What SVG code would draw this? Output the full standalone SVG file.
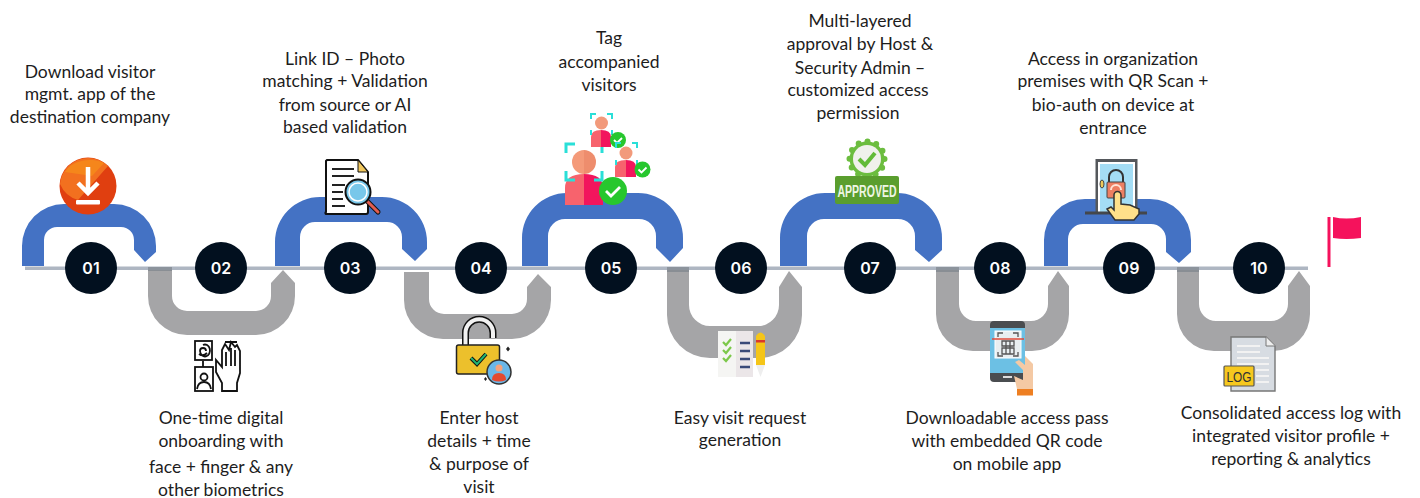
<svg xmlns="http://www.w3.org/2000/svg" width="1420" height="498" viewBox="0 0 1420 498">
<style>
.lb{font-family:"Lato","Liberation Sans",sans-serif;font-size:17.5px;fill:#1d1d1d;text-anchor:middle}
.nm{font-family:"Inter","Liberation Sans",sans-serif;font-size:16px;font-weight:600;fill:#fff;text-anchor:middle}
.dot{fill:#02101f}
.up{fill:#4472c4}
.dn{fill:#a5a5a7}
.ln{fill:none;stroke:#111;stroke-width:1.800}
</style>
<rect width="1420" height="498" fill="#fff"/>
<g id="connectors">
<path class="dn" d="M148 268H172V296A15 15 0 0 0 187 311H256A15 15 0 0 0 271 296V283L283 270L295 283V296A39 39 0 0 1 256 335H187A39 39 0 0 1 148 296Z"/>
<path class="dn" d="M404 272H429V299A15 15 0 0 0 444 314H512A15 15 0 0 0 527 299V287L538 274L551 287V300A39 39 0 0 1 512 339H443A39 39 0 0 1 404 300Z"/>
<path class="dn" d="M667 268H689V305A21 21 0 0 0 710 326H758A21 21 0 0 0 779 305V287L789 271L802 287V315A43 43 0 0 1 759 358H710A43 43 0 0 1 667 315Z"/>
<path class="dn" d="M936 268H959V304A17 17 0 0 0 976 321H1031A17 17 0 0 0 1048 304V286L1058 271L1069 286V314A37 37 0 0 1 1032 351H973A37 37 0 0 1 936 314Z"/>
<path class="dn" d="M1177 268H1199V304A17 17 0 0 0 1216 321H1271A17 17 0 0 0 1288 304V286L1299 271L1310 286V314A37 37 0 0 1 1273 351H1214A37 37 0 0 1 1177 314Z"/>
<path class="up" d="M22 266V246A42 42 0 0 1 64 204H114A42 42 0 0 1 156 246V252L145 262L134 250V240A13 13 0 0 0 121 227H57A13 13 0 0 0 44 240V266Z"/>
<path class="up" d="M275 266V242A45 45 0 0 1 320 197H382A45 45 0 0 1 427 242V249L415 261L402 249V237A15 15 0 0 0 387 222H315A15 15 0 0 0 300 237V266Z"/>
<path class="up" d="M522 266V238A45 45 0 0 1 567 193H638A45 45 0 0 1 683 238V248L670 262L656 248V236A17 17 0 0 0 639 219H565A17 17 0 0 0 548 236V266Z"/>
<path class="up" d="M780 266V238A45 45 0 0 1 825 193H897A45 45 0 0 1 942 238V250L929 262L915 250V236A17 17 0 0 0 898 219H824A17 17 0 0 0 807 236V266Z"/>
<path class="up" d="M1044 266V240A41 41 0 0 1 1085 199H1150A41 41 0 0 1 1191 240V252L1179 263L1166 252V239A15 15 0 0 0 1151 224H1083A15 15 0 0 0 1068 239V266Z"/>
<rect x="25" y="266.500" width="1283" height="3.500" fill="#aeb6c2"/>
<path fill="#7d848c" d="M667 267h22v5h-22zM936 267h23v5h-23zM1177 267h22v5h-22zM148 267h24v4h-24z" opacity=".7"/>
</g>
<g id="step-01">
<circle class="dot" cx="91" cy="268" r="26"/><text class="nm" x="91" y="274">01</text>
<text class="lb"><tspan x="90" y="78">Download visitor</tspan><tspan x="90" y="100">mgmt. app of the</tspan><tspan x="90" y="123">destination company</tspan></text>
<circle cx="88" cy="186" r="28.500" fill="#e03f10"/>
<path d="M60 184A28 28 0 0 1 88 158A28 28 0 0 1 108 166L78 200A28 28 0 0 1 60 184Z" fill="#f2701f"/>
<path d="M65 172A26 18 0 0 1 104 163L92 176Z" fill="#f58c1a" opacity=".8"/>
<path d="M88 167V192M78 183L88 193L98 183" fill="none" stroke="#fff" stroke-width="4.500"/><rect x="76" y="200" width="24" height="4.500" rx="1" fill="#fff"/>
</g>
<g id="step-02">
<circle class="dot" cx="221" cy="268" r="26"/><text class="nm" x="221" y="274">02</text>
<text class="lb"><tspan x="221" y="424">One-time digital</tspan><tspan x="221" y="447">onboarding with</tspan><tspan x="221" y="473">face + finger &amp; any</tspan><tspan x="221" y="496">other biometrics</tspan></text>
<rect class="ln" x="195" y="341" width="17" height="19"/><path class="ln" d="M203 361V367M203 345a5 6 0 1 1-3 6a3 3 0 1 1 6 0M199 354q4 3 8-1"/>
<rect class="ln" x="195" y="367" width="18" height="24"/><circle class="ln" cx="204" cy="377" r="3.500"/><path class="ln" d="M197 389q1-7 7-7t7 7"/>
<path class="ln" d="M222 391V383L216 372V360L222 367V350L225 344L229 350L231 342L235 347L237 345L240 351V373L237 383V391ZM224 391H237M226 352V366M231 348V366M235 350V366M225 342L237 342"/>
</g>
<g id="step-03">
<circle class="dot" cx="350" cy="268" r="26"/><text class="nm" x="350" y="274">03</text>
<text class="lb"><tspan x="345" y="65">Link ID – Photo</tspan><tspan x="345" y="87">matching + Validation</tspan><tspan x="345" y="111">from source or AI</tspan><tspan x="345" y="133">based validation</tspan></text>
<path d="M327 160H358L368 172V212A2 2 0 0 1 366 214H327A1 1 0 0 1 326 212V161Z" fill="#fff" stroke="#111" stroke-width="2"/>
<path d="M358 160V172H368Z" fill="#f0c75e" stroke="#111"/>
<path d="M332 169H354M332 176H354M332 185H345M332 192H343M332 199H343M332 206H345" stroke="#222" stroke-width="1.800" fill="none"/>
<path d="M366 200L378 212" stroke="#111" stroke-width="5" stroke-linecap="round"/><path d="M366 200L378 212" stroke="#e25d50" stroke-width="3" stroke-linecap="round"/>
<circle cx="358" cy="192" r="12.500" fill="#78c7ea" stroke="#111" stroke-width="2"/><circle cx="358" cy="192" r="9" fill="#78c7ea" stroke="#fff" stroke-width="1.500"/>
</g>
<g id="step-04">
<circle class="dot" cx="481" cy="268" r="26"/><text class="nm" x="481" y="274">04</text>
<text class="lb"><tspan x="479" y="424">Enter host</tspan><tspan x="479" y="447">details + time</tspan><tspan x="479" y="470">&amp; purpose of</tspan><tspan x="479" y="493">visit</tspan></text>
<path d="M465.500 345V333A13.750 13.750 0 0 1 493 333V338" fill="none" stroke="#111" stroke-width="7"/><path d="M465.500 345V333A13.750 13.750 0 0 1 493 333V338" fill="none" stroke="#f2f2f2" stroke-width="4"/>
<rect x="456.500" y="345" width="43" height="29" rx="2" fill="#ecc02c" stroke="#222" stroke-width="1.500"/>
<path d="M471 358L477 364L486 354" fill="none" stroke="#111" stroke-width="4"/><path d="M471 358L477 364L486 354" fill="none" stroke="#21b573" stroke-width="2"/>
<circle cx="499" cy="372" r="12" fill="#6ab7e8" stroke="#333" stroke-width="1.500"/><circle cx="499" cy="368" r="3.500" fill="#f4a27c"/><path d="M492 380q0-7 7-7t7 7q-7 3-14 0Z" fill="#e4492f"/>
<path d="M506 349l2 2.500 2-2.500-2-2.500ZM484 379l1.500 2 1.500-2-1.500-2Z" fill="#222"/>
</g>
<g id="step-05">
<circle class="dot" cx="611" cy="268" r="26"/><text class="nm" x="611" y="274">05</text>
<text class="lb"><tspan x="609" y="44">Tag</tspan><tspan x="609" y="68">accompanied</tspan><tspan x="609" y="91">visitors</tspan></text>
<path d="M565 205V188Q565 174 584 174V205Z" fill="#f7636d"/><path d="M584 205V174Q603 174 603 188V205Z" fill="#f2155d"/>
<path d="M584 150A12 12 0 0 0 584 174Z" fill="#f49a79"/><path d="M584 150A12 12 0 0 1 584 174Z" fill="#ee8d6d"/>
<path d="M566 153V144H575M594 144H602V153M566 171V180H575M594 180H602V171" fill="none" stroke="#2adfd8" stroke-width="3"/>
<circle cx="613" cy="191" r="14" fill="#27c72e"/><path d="M606 191L611 196L620 187" fill="none" stroke="#fff" stroke-width="2.800"/>
<path d="M591 147V137Q591 130 601 130V147Z" fill="#f7636d"/><path d="M601 147V130Q611 130 611 137V147Z" fill="#f2155d"/>
<circle cx="601.500" cy="123" r="6.500" fill="#f29a7b"/>
<path d="M591 119V114H596M607 114H612V119M591 130V135M612 130V135" fill="none" stroke="#2adfd8" stroke-width="2"/>
<circle cx="618" cy="140" r="8" fill="#27c72e"/><path d="M614 140L617 143L622 138" fill="none" stroke="#fff" stroke-width="1.800"/>
<path d="M615 177V167Q615 160 626 160V177Z" fill="#f7636d"/><path d="M626 177V160Q636 160 636 167V177Z" fill="#f2155d"/>
<circle cx="626" cy="153" r="6.500" fill="#f29a7b"/>
<path d="M616 148V143H621M632 143H637V148M616 160V165M637 160V165" fill="none" stroke="#2adfd8" stroke-width="2"/>
<circle cx="642.500" cy="169.500" r="8" fill="#27c72e"/><path d="M638.500 169.500L641.500 172.500L646.500 167.500" fill="none" stroke="#fff" stroke-width="1.800"/>
</g>
<g id="step-06">
<circle class="dot" cx="741" cy="268" r="26"/><text class="nm" x="741" y="274">06</text>
<text class="lb"><tspan x="740" y="424">Easy visit request</tspan><tspan x="740" y="446">generation</tspan></text>
<rect x="718" y="331" width="18" height="46" fill="#f5f5f3"/><rect x="736" y="331" width="17" height="46" fill="#ebe6e8"/>
<path d="M723 342L726 345L731 339M723 350L726 353L731 347M723 358L726 361L731 355" fill="none" stroke="#7cc84a" stroke-width="2.200"/>
<path d="M740 343H750M740 351H750M740 359H750M740 367H750" stroke="#3a4a78" stroke-width="2.500"/>
<path d="M756 336Q760 329 765 336V365H756Z" fill="#f5c518"/><rect x="756" y="340" width="9" height="2.500" fill="#d9382c"/><path d="M756 365H765L760.500 377Z" fill="#eee"/>
</g>
<g id="step-07">
<circle class="dot" cx="870" cy="268" r="26"/><text class="nm" x="870" y="274">07</text>
<text class="lb"><tspan x="860" y="27">Multi-layered</tspan><tspan x="860" y="50">approval by Host &amp;</tspan><tspan x="860" y="74">Security Admin –</tspan><tspan x="858" y="96">customized access</tspan><tspan x="858" y="119">permission</tspan></text>
<circle cx="867" cy="159" r="17.500" fill="#6cbd3f" stroke="#6cbd3f" stroke-width="6" stroke-linecap="round" stroke-dasharray="0 9.160"/>
<circle cx="867" cy="159" r="14" fill="#f0f1ec"/>
<path d="M859 159L865 165L875 153" fill="none" stroke="#62bb38" stroke-width="4"/>
<rect x="835" y="176" width="64" height="28" rx="2" fill="#5a9e2e"/>
<text x="867" y="197" style="font-family:'Liberation Sans Narrow','Liberation Sans',sans-serif;font-size:16px;font-weight:700;fill:#eef6e4;text-anchor:middle" textLength="59" lengthAdjust="spacingAndGlyphs">APPROVED</text>
</g>
<g id="step-08">
<circle class="dot" cx="1000" cy="268" r="26"/><text class="nm" x="1000" y="274">08</text>
<text class="lb"><tspan x="1007" y="424">Downloadable access pass</tspan><tspan x="1007" y="447">with embedded QR code</tspan><tspan x="1007" y="470">on mobile app</tspan></text>
<rect x="990" y="321" width="35" height="61" rx="4" fill="#4a4d50"/><rect x="990" y="328" width="35" height="45" fill="#6cc0e4"/>
<rect x="995" y="331" width="26" height="27" fill="#e8eef0" stroke="#fff"/>
<path d="M998 337V333H1003M1013 333H1018V337M998 352V356H1003M1013 356H1018V352M1002 341H1014V346H1002ZM1002 348H1014V354H1002ZM1006 341V354M1010 341V354" fill="none" stroke="#555" stroke-width="1.300"/>
<path d="M992 339H1024" stroke="#e04a3a" stroke-width="1.500"/>
<rect x="1003" y="376" width="9" height="2" fill="#ddd"/>
<path d="M1025 356L1033 364V389H1017L1014 376L1023 380V370L1015 362L1019 360L1025 365Z" fill="#f4c9a4"/>
<rect x="1017" y="389" width="16" height="6.500" fill="#ee7f22"/>
</g>
<g id="step-09">
<circle class="dot" cx="1129" cy="268" r="26"/><text class="nm" x="1129" y="274">09</text>
<text class="lb"><tspan x="1113" y="65">Access in organization</tspan><tspan x="1113" y="87">premises with QR Scan +</tspan><tspan x="1113" y="111">bio-auth on device at</tspan><tspan x="1113" y="134">entrance</tspan></text>
<rect x="1095.500" y="159" width="42" height="54" fill="#55585c"/><rect x="1098" y="162" width="37" height="51" fill="#fff"/><rect x="1100" y="164" width="33" height="49" fill="#a4ddf5"/>
<ellipse cx="1102" cy="184" rx="2" ry="4" fill="#eeca5a" stroke="#444"/>
<path d="M1109 184V177A7 7 0 0 1 1123 177V184" fill="none" stroke="#333" stroke-width="2"/>
<rect x="1107" y="182" width="18" height="16" rx="1" fill="#ed7f62" stroke="#444"/>
<path d="M1111 190a5 5 0 0 1 10 0" fill="none" stroke="#ffe3d6" stroke-width="2"/>
<path d="M1085 213H1147" stroke="#44474b" stroke-width="3"/>
<path d="M1114 195a3.500 3.500 0 0 1 7 0V204L1130 205L1139 209V214L1134 220H1115L1107 209L1111 207L1114 210Z" fill="#ffe08a" stroke="#333" stroke-width="1.500"/>
</g>
<g id="step-10">
<circle class="dot" cx="1259" cy="268" r="26"/><text class="nm" x="1259" y="274">10</text>
<text class="lb"><tspan x="1291" y="419">Consolidated access log with</tspan><tspan x="1291" y="442">integrated visitor profile +</tspan><tspan x="1291" y="465">reporting &amp; analytics</tspan></text>
<path d="M1231 337H1266L1275 346V391H1231Z" fill="#d7dce2" stroke="#777" stroke-width="1.400"/><path d="M1266 337V346H1275" fill="#eee" stroke="#777"/>
<path d="M1237 346H1260M1237 352H1260M1237 358H1269M1237 364H1269M1256 370H1269M1256 376H1269M1256 382H1269" stroke="#f2f2f2" stroke-width="1.800"/>
<rect x="1224" y="366" width="30" height="20" rx="1" fill="#f6c81e" stroke="#555" stroke-width="1.200"/>
<text x="1239" y="382" style="font-family:'Liberation Sans',sans-serif;font-size:15px;fill:#333;text-anchor:middle" textLength="25" lengthAdjust="spacingAndGlyphs">LOG</text>
</g>
<g id="flag">
<path d="M1327.500 217H1330.500V267H1327.500Z" fill="#f5125c"/><path d="M1333 217Q1346 220 1361 217V238Q1346 240 1333 238Z" fill="#f5125c"/>
</g>
</svg>
